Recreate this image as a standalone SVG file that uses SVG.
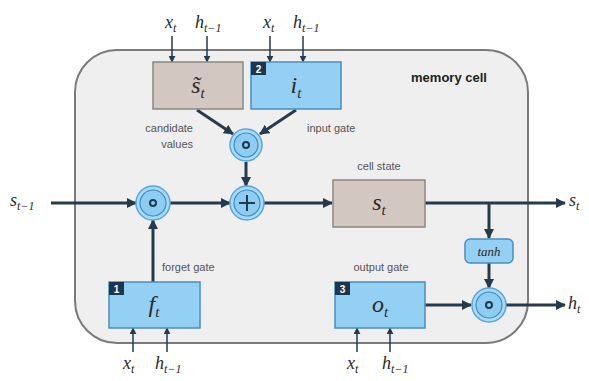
<svg xmlns="http://www.w3.org/2000/svg" width="589" height="381" viewBox="0 0 589 381">
<defs>
<style>
.cell{fill:#efefef;stroke:#7a7a7a;stroke-width:2}
.gate{fill:#93d0f3;stroke:#4a8fbd;stroke-width:1.5}
.cand{fill:#d3c8c1;stroke:#8c8682;stroke-width:1.5}
.badge{fill:#1c3650}
.bnum{font-family:"Liberation Sans",sans-serif;font-size:10px;font-weight:bold;fill:#ffffff;text-anchor:middle}
.math{font-family:"Liberation Serif",serif;font-style:italic;fill:#2a2a2a}
.big{font-size:24px;text-anchor:middle}
.lab{font-size:18px}
.note{font-family:"Liberation Sans",sans-serif;font-size:11px;fill:#555555}
.main{stroke:#263a4c;stroke-width:3;fill:none}
.thin{stroke:#263a4c;stroke-width:1.5;fill:none}
.opo{fill:#a9dbf7;stroke:#5aa7dc;stroke-width:1.5}
.opi{fill:#8dcdf1;stroke:#3f8cc4;stroke-width:1.2}
.sym{stroke:#1f3a52;stroke-width:2;fill:none}
</style>
<marker id="ah" viewBox="0 0 10 10" refX="9" refY="5" markerWidth="10" markerHeight="10" markerUnits="userSpaceOnUse" orient="auto">
<path d="M0,0 L10,5 L0,10 z" fill="#263a4c"/>
</marker>
<marker id="as" viewBox="0 0 10 10" refX="9" refY="5" markerWidth="7" markerHeight="7" markerUnits="userSpaceOnUse" orient="auto">
<path d="M0,0 L10,5 L0,10 z" fill="#263a4c"/>
</marker>
</defs>

<g id="memory-cell">
<rect class="cell" x="75" y="50" width="453" height="293" rx="42"/>
<text x="449" y="82" text-anchor="middle" font-family="Liberation Sans,sans-serif" font-size="13" font-weight="bold" fill="#222">memory cell</text>
</g>

<g id="connectors">
<!-- top inputs -->
<line class="thin" x1="172" y1="36" x2="172" y2="62" marker-end="url(#as)"/>
<line class="thin" x1="207" y1="36" x2="207" y2="62" marker-end="url(#as)"/>
<line class="thin" x1="270" y1="36" x2="270" y2="62" marker-end="url(#as)"/>
<line class="thin" x1="303" y1="36" x2="303" y2="62" marker-end="url(#as)"/>
<!-- bottom inputs -->
<line class="thin" x1="133" y1="352" x2="133" y2="328" marker-end="url(#as)"/>
<line class="thin" x1="167" y1="352" x2="167" y2="328" marker-end="url(#as)"/>
<line class="thin" x1="357" y1="352" x2="357" y2="328" marker-end="url(#as)"/>
<line class="thin" x1="390" y1="352" x2="390" y2="328" marker-end="url(#as)"/>
<!-- candidate & input to multiply -->
<line class="main" x1="197" y1="110" x2="233" y2="134" marker-end="url(#ah)"/>
<line class="main" x1="296" y1="110" x2="260" y2="134" marker-end="url(#ah)"/>
<line class="main" x1="246" y1="162" x2="246" y2="186" marker-end="url(#ah)"/>
<!-- main line -->
<line class="main" x1="51" y1="203" x2="136" y2="203" marker-end="url(#ah)"/>
<line class="main" x1="170" y1="203" x2="230" y2="203" marker-end="url(#ah)"/>
<line class="main" x1="263" y1="203" x2="332" y2="203" marker-end="url(#ah)"/>
<line class="main" x1="425" y1="203" x2="565" y2="203" marker-end="url(#ah)"/>
<line class="main" x1="489" y1="203" x2="489" y2="238" marker-end="url(#ah)"/>
<line class="main" x1="489" y1="263" x2="489" y2="288" marker-end="url(#ah)"/>
<!-- forget gate up -->
<line class="main" x1="153" y1="282" x2="153" y2="220" marker-end="url(#ah)"/>
<!-- output -->
<line class="main" x1="425" y1="305" x2="471" y2="305" marker-end="url(#ah)"/>
<line class="main" x1="506" y1="305" x2="565" y2="305" marker-end="url(#ah)"/>
</g>

<g id="candidate">
<rect class="cand" x="153" y="62" width="90" height="47"/>
<text class="math big" x="198" y="93">s̃<tspan font-size="15" dy="5">t</tspan></text>
<text class="note" x="193" y="132" text-anchor="end">candidate</text>
<text class="note" x="193" y="148" text-anchor="end">values</text>
</g>

<g id="input-gate">
<rect class="gate" x="251" y="62" width="90" height="47"/>
<rect class="badge" x="251" y="62" width="15" height="13"/>
<text class="bnum" x="258.5" y="72.5">2</text>
<text class="math big" x="296" y="93">i<tspan font-size="15" dy="5">t</tspan></text>
<text class="note" x="307" y="132">input gate</text>
</g>

<g id="input-multiply">
<circle class="opo" cx="246" cy="145" r="16"/>
<circle class="opi" cx="246" cy="145" r="12"/>
<circle class="sym" cx="246" cy="145" r="3"/>
</g>

<g id="forget-multiply">
<circle class="opo" cx="153" cy="203" r="17"/>
<circle class="opi" cx="153" cy="203" r="13"/>
<circle class="sym" cx="153" cy="203" r="3"/>
</g>

<g id="add">
<circle class="opo" cx="247" cy="203" r="17"/>
<circle class="opi" cx="247" cy="203" r="13"/>
<path class="sym" d="M247,195 V211 M239,203 H255"/>
</g>

<g id="cell-state">
<rect class="cand" x="333" y="180" width="92" height="47"/>
<text class="math big" x="379" y="210">s<tspan font-size="15" dy="5">t</tspan></text>
<text class="note" x="379" y="170" text-anchor="middle">cell state</text>
</g>

<g id="tanh">
<rect class="gate" x="465" y="239" width="48" height="24" rx="5"/>
<text class="math" x="489" y="256" font-size="13" text-anchor="middle" fill="#2f5f88">tanh</text>
</g>

<g id="output-multiply">
<circle class="opo" cx="489" cy="305" r="17"/>
<circle class="opi" cx="489" cy="305" r="13"/>
<circle class="sym" cx="489" cy="305" r="3"/>
</g>

<g id="forget-gate">
<rect class="gate" x="109" y="282" width="91" height="46"/>
<rect class="badge" x="109" y="282" width="15" height="13"/>
<text class="bnum" x="116.5" y="292.5">1</text>
<text class="math big" x="154" y="312">f<tspan font-size="15" dy="5">t</tspan></text>
<text class="note" x="162" y="271">forget gate</text>
</g>

<g id="output-gate">
<rect class="gate" x="335" y="282" width="90" height="46"/>
<rect class="badge" x="335" y="282" width="15" height="13"/>
<text class="bnum" x="342.5" y="292.5">3</text>
<text class="math big" x="380" y="312">o<tspan font-size="15" dy="5">t</tspan></text>
<text class="note" x="381" y="271" text-anchor="middle">output gate</text>
</g>

<g id="labels">
<text class="math lab" x="165" y="28">x<tspan font-size="12" dy="4">t</tspan></text>
<text class="math lab" x="195" y="28">h<tspan font-size="12" dy="4">t−1</tspan></text>
<text class="math lab" x="263" y="28">x<tspan font-size="12" dy="4">t</tspan></text>
<text class="math lab" x="293" y="28">h<tspan font-size="12" dy="4">t−1</tspan></text>
<text class="math lab" x="123" y="369">x<tspan font-size="12" dy="4">t</tspan></text>
<text class="math lab" x="155" y="369">h<tspan font-size="12" dy="4">t−1</tspan></text>
<text class="math lab" x="347" y="369">x<tspan font-size="12" dy="4">t</tspan></text>
<text class="math lab" x="382" y="369">h<tspan font-size="12" dy="4">t−1</tspan></text>
<text class="math lab" x="10" y="206">s<tspan font-size="12" dy="4">t−1</tspan></text>
<text class="math lab" x="569" y="206">s<tspan font-size="12" dy="4">t</tspan></text>
<text class="math lab" x="568" y="309">h<tspan font-size="12" dy="4">t</tspan></text>
</g>
</svg>
